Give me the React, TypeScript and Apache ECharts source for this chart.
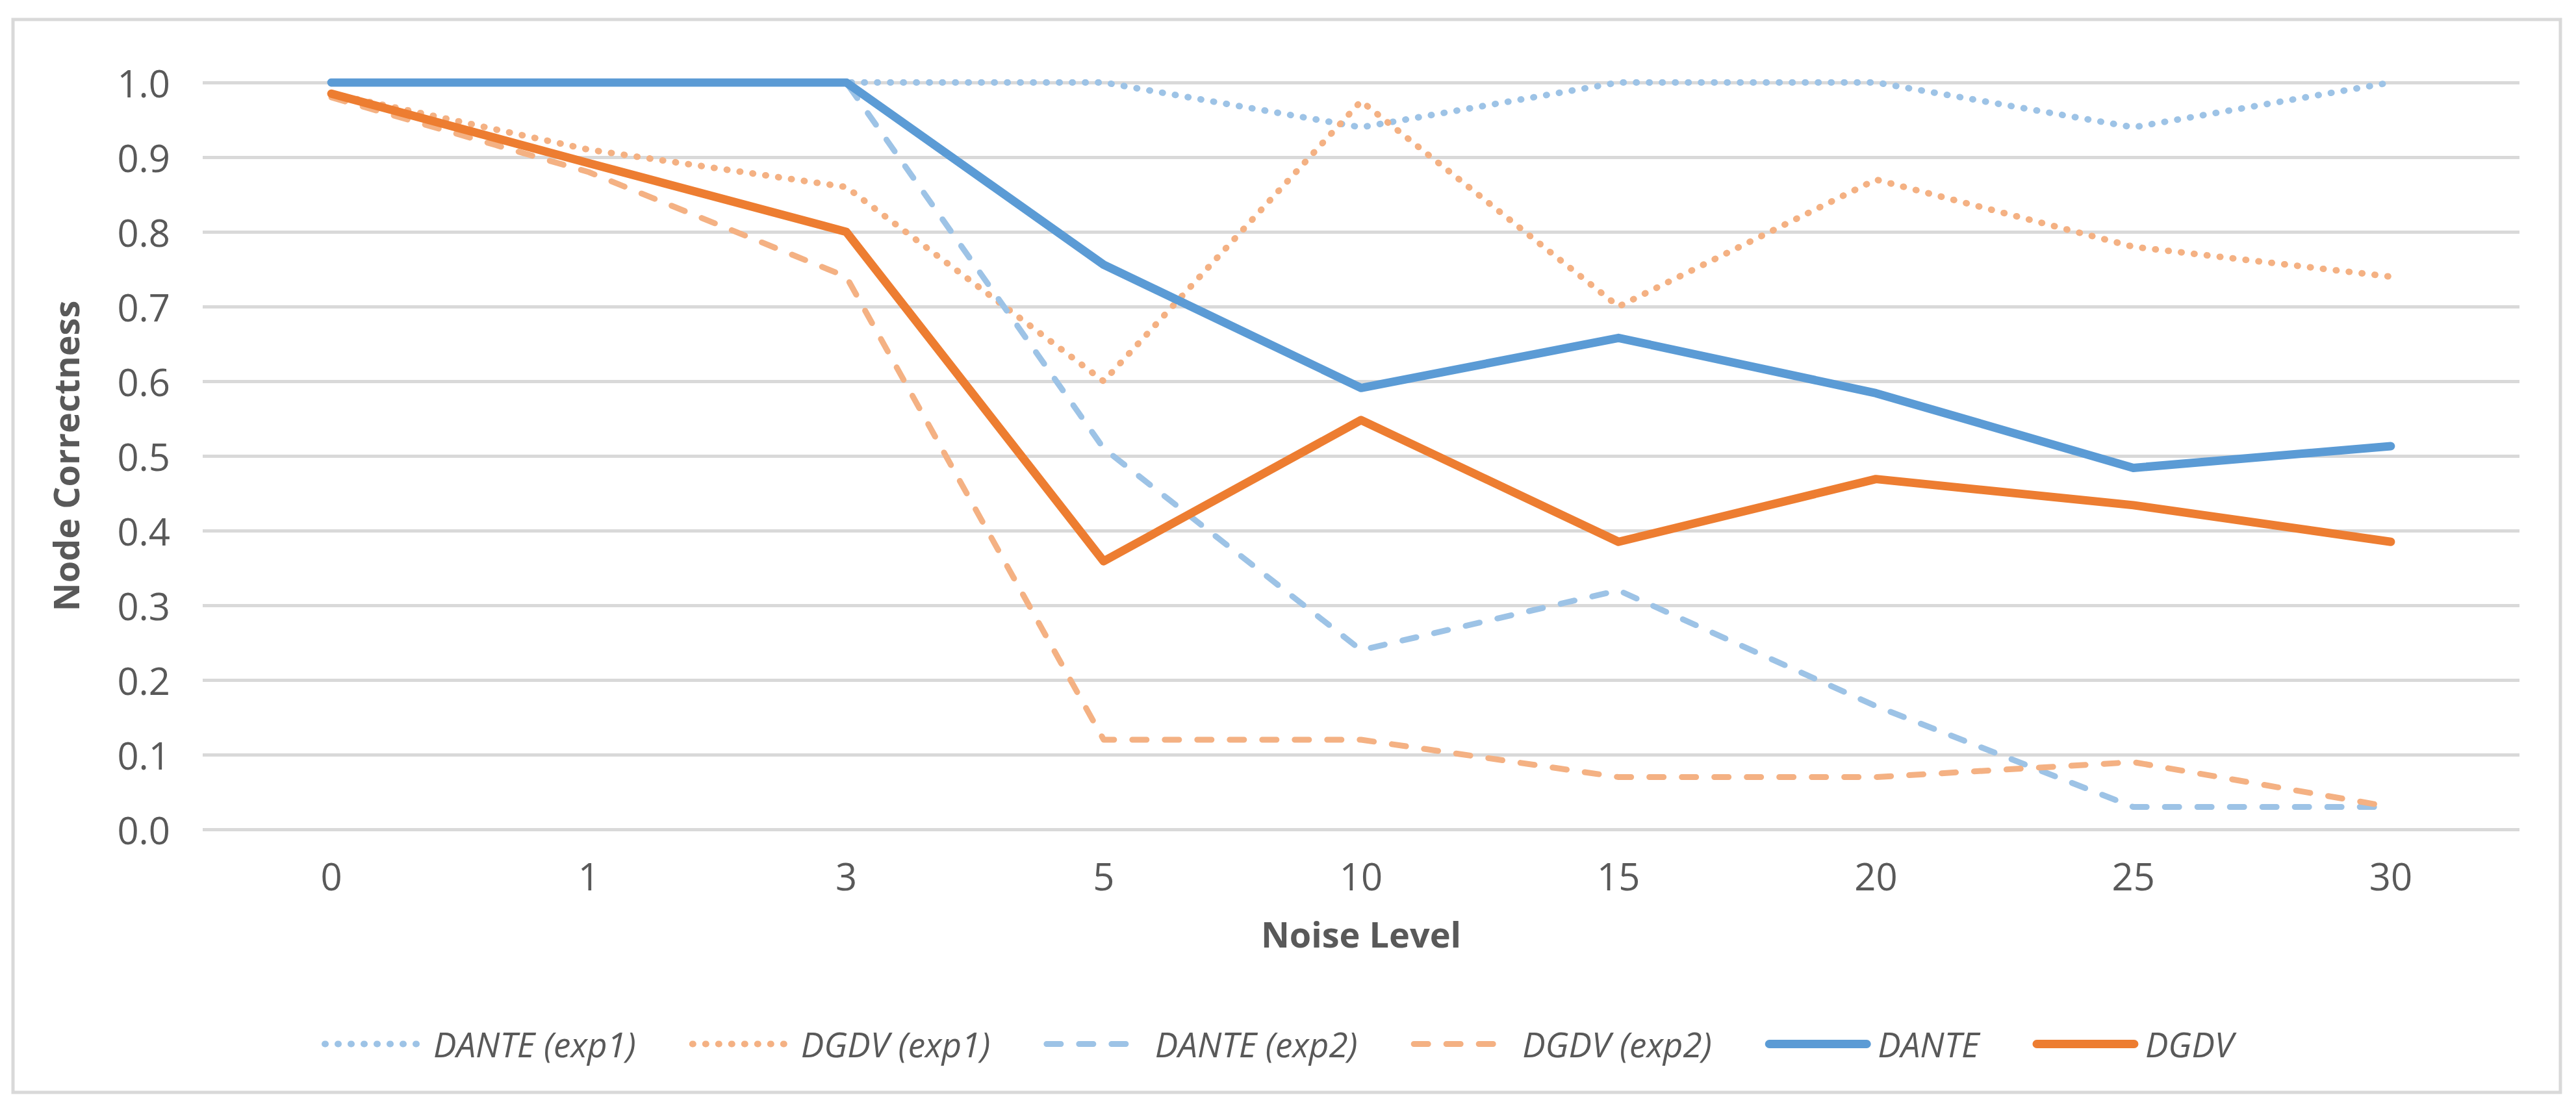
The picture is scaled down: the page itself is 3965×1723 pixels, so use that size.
import React, { useEffect, useRef } from "react";
import * as echarts from "echarts";

const categories = ["0", "1", "3", "5", "10", "15", "20", "25", "30"];
const danteExp1 = [1.0, 1.0, 1.0, 1.0, 0.94, 1.0, 1.0, 0.94, 1.0];
const dgdvExp1 = [0.985, 0.91, 0.86, 0.6, 0.975, 0.7, 0.87, 0.78, 0.74];
const danteExp2 = [1.0, 1.0, 1.0, 0.51, 0.24, 0.32, 0.165, 0.03, 0.03];
const dgdvExp2 = [0.98, 0.88, 0.74, 0.12, 0.12, 0.07, 0.07, 0.09, 0.03];
const dante = [1.0, 1.0, 1.0, 0.756, 0.591, 0.658, 0.584, 0.484, 0.513];
const dgdv = [0.985, 0.892, 0.8, 0.359, 0.548, 0.385, 0.469, 0.434, 0.385];

const seriesNames = ["DANTE (exp1)", "DGDV (exp1)", "DANTE (exp2)", "DGDV (exp2)", "DANTE", "DGDV"];

const BLUE = "#5B9BD5";
const ORANGE = "#ED7D31";
const LIGHT_BLUE = "#9DC3E6";
const LIGHT_ORANGE = "#F4B183";
const TEXT = "#595959";
const GRID = "#D9D9D9";
const FONT = "'Open Sans', 'Noto Sans', sans-serif";

export default function App() {
  const ref = useRef<HTMLDivElement>(null);
  useEffect(() => {
    if (!ref.current) return;
    const chart = echarts.init(ref.current, null, { renderer: "svg" });
    const dotted = { type: [1, 19], width: 10, cap: "round", join: "round" };
    const dashed = { type: [22, 28], width: 9, cap: "round", join: "round" };
    const solid = { type: "solid", width: 13, cap: "round", join: "round" };
    const mk = (name: string, data: number[], color: string, ls: any) => ({
      name,
      type: "line",
      data,
      symbol: "none",
      showSymbol: false,
      color,
      lineStyle: { ...ls, color },
      itemStyle: { color },
    });
    chart.setOption({
      animation: false,
      backgroundColor: "#ffffff",
      textStyle: { fontFamily: FONT, color: TEXT },
      graphic: [
        {
          type: "rect",
          shape: { x: 20, y: 30, width: 3921, height: 1652 },
          style: { fill: "none", stroke: GRID, lineWidth: 5 },
          z: -10,
          silent: true,
        },
      ],
      grid: { left: 312, right: 87, top: 127, bottom: 446, containLabel: false },
      legend: {
        left: 490,
        top: 1576,
        itemWidth: 150,
        itemHeight: 1,
        itemGap: 82,
        data: seriesNames,
        itemStyle: { opacity: 0 },
        lineStyle: { width: "inherit", type: "inherit", cap: "round" },
        textStyle: {
          fontFamily: FONT,
          fontSize: 53,
          fontStyle: "italic",
          color: TEXT,
          padding: [0, 0, 0, 12],
        },
      },
      xAxis: {
        type: "category",
        data: categories,
        boundaryGap: true,
        axisLine: { show: false },
        axisTick: { show: false },
        axisLabel: { fontSize: 58, color: TEXT, fontFamily: FONT, margin: 42 },
        name: "Noise Level",
        nameLocation: "middle",
        nameGap: 134,
        nameTextStyle: { fontSize: 54, fontWeight: "bold", color: TEXT, fontFamily: FONT },
      },
      yAxis: {
        type: "value",
        min: 0,
        max: 1,
        interval: 0.1,
        axisLine: { show: false },
        axisTick: { show: false },
        axisLabel: {
          fontSize: 58,
          color: TEXT,
          fontFamily: FONT,
          margin: 50,
          formatter: (v: number) => v.toFixed(1),
        },
        splitLine: { lineStyle: { color: GRID, width: 5 } },
        name: "Node Correctness",
        nameLocation: "middle",
        nameGap: 184,
        nameRotate: 90,
        nameTextStyle: { fontSize: 54, fontWeight: "bold", color: TEXT, fontFamily: FONT },
      },
      series: [
        mk(seriesNames[0], danteExp1, LIGHT_BLUE, dotted),
        mk(seriesNames[1], dgdvExp1, LIGHT_ORANGE, dotted),
        mk(seriesNames[2], danteExp2, LIGHT_BLUE, dashed),
        mk(seriesNames[3], dgdvExp2, LIGHT_ORANGE, dashed),
        mk(seriesNames[4], dante, BLUE, solid),
        mk(seriesNames[5], dgdv, ORANGE, solid),
      ],
    });
    return () => chart.dispose();
  }, []);
  return (
    <div
      ref={ref}
      style={{ position: "absolute", left: 0, top: 0, width: 3965, height: 1723 }}
    />
  );
}
